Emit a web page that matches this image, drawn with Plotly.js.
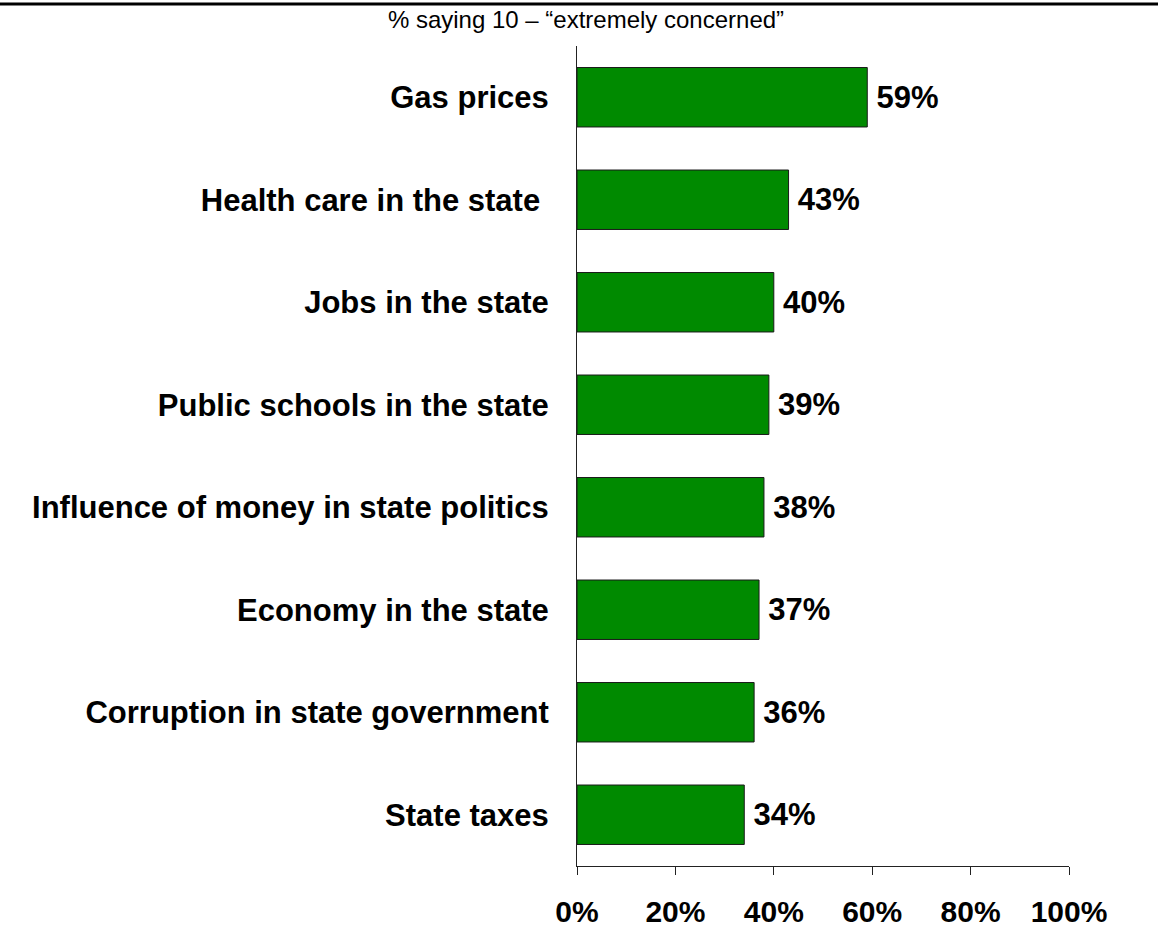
<!DOCTYPE html>
<html>
<head>
<meta charset="utf-8">
<script src="https://cdn.plot.ly/plotly-3.0.1.min.js"></script>
<style>
html,body{margin:0;padding:0;background:#fff;}
#chart{width:1158px;height:931px;}
</style>
</head>
<body>
<div id="chart"></div>
<script>
const categories = [
  "Gas prices",
  "Health care in the state\u00a0",
  "Jobs in the state",
  "Public schools in the state",
  "Influence of money in state politics",
  "Economy in the state",
  "Corruption in state government",
  "State taxes"
];
const values = [59, 43, 40, 39, 38, 37, 36, 34];
const xTickVals = [0, 20, 40, 60, 80, 100];
const xTickText = ["0%", "20%", "40%", "60%", "80%", "100%"];
const subtitle = "% saying 10 \u2013 \u201cextremely concerned\u201d";

const font = "Liberation Sans, Arial, Helvetica, sans-serif";

const trace = {
  type: "bar",
  orientation: "h",
  x: values,
  y: categories,
  marker: {color: "rgb(0,138,0)", line: {color: "#1a1a1a", width: 1}},
  width: 0.58,
  text: values.map(v => "\u2009" + v + "%"),
  texttemplate: "%{text}",
  textposition: "outside",
  cliponaxis: false,
  textfont: {family: font, size: 31, color: "#000", weight: "bold"},
  hoverinfo: "none"
};

const layout = {
  width: 1158,
  height: 931,
  margin: {l: 577, r: 89, t: 46, b: 65, pad: 0},
  paper_bgcolor: "#fff",
  plot_bgcolor: "#fff",
  showlegend: false,
  title: {
    text: subtitle,
    x: 586 / 1158, xref: "container", xanchor: "center",
    y: 1 - 20 / 931, yref: "container", yanchor: "middle",
    font: {family: font, size: 24, color: "#000"}
  },
  xaxis: {
    range: [0, 100],
    tickvals: xTickVals,
    ticktext: xTickText,
    ticks: "outside",
    ticklen: 8,
    tickwidth: 1,
    tickcolor: "#222",
    showline: true,
    linecolor: "#222",
    linewidth: 1,
    showgrid: false,
    zeroline: false,
    ticklabelstandoff: 11,
    tickfont: {family: font, size: 30, color: "#000", weight: "bold"},
    fixedrange: true
  },
  yaxis: {
    categoryorder: "array",
    categoryarray: categories.slice().reverse(),
    autorange: false,
    range: [-0.5, categories.length - 0.5],
    ticks: "",
    showline: true,
    linecolor: "#222",
    linewidth: 1,
    showgrid: false,
    zeroline: false,
    minor: {ticks: "outside", ticklen: 8, tickcolor: "#222", tickwidth: 1, dtick: 1, tick0: 0.5},
    ticklabelstandoff: 21,
    tickfont: {family: font, size: 31, color: "#000", weight: "bold"},
    fixedrange: true
  },
  shapes: [{
    type: "line", xref: "paper", yref: "paper",
    x0: -577/492, x1: (1158-577)/492,
    y0: (866-4)/820, y1: (866-4)/820,
    line: {color: "#000", width: 3}
  }]
};

Plotly.newPlot("chart", [trace], layout, {displayModeBar: false, staticPlot: true});
</script>
</body>
</html>
